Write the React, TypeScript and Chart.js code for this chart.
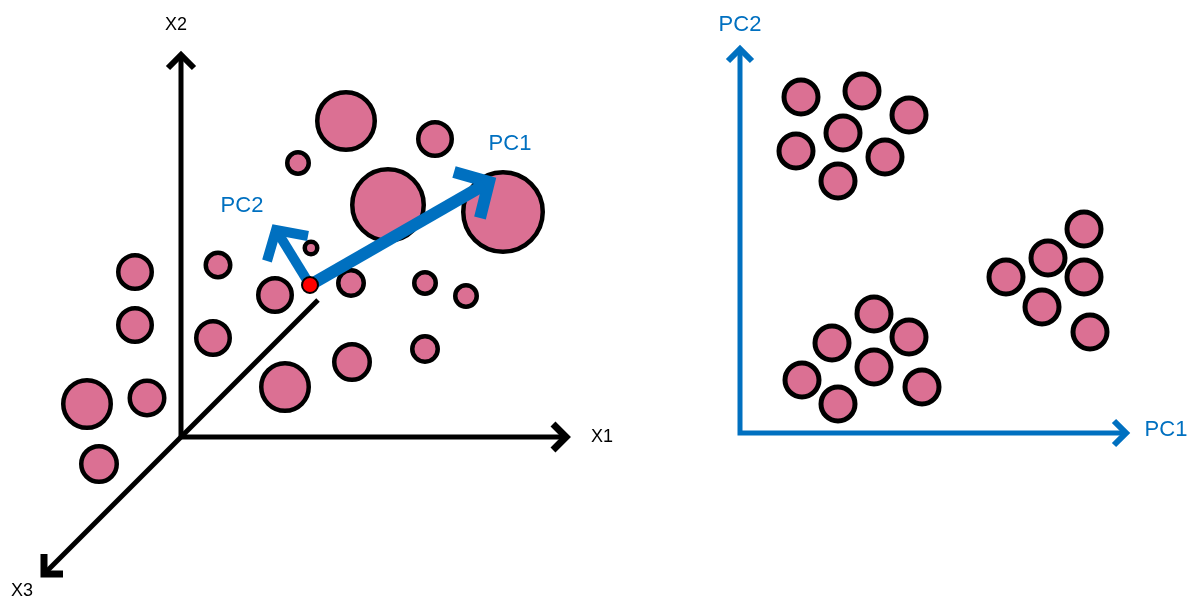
import React, { useEffect, useRef } from "react";
import { Chart, registerables } from "chart.js";

Chart.register(...registerables);

// ---------- data (in picture units: x to the right, y downward) ----------
// left panel: the 3-D cloud of samples
const CLOUD_X = [346, 435, 298, 388, 503, 311, 135, 218, 275, 351, 425, 466, 135, 213, 352, 425, 285, 87, 147, 99];
const CLOUD_Y = [121, 139, 163, 205, 212, 248, 272, 265, 295, 283, 283, 296, 325, 338, 362, 349, 387, 404, 398, 464];
const CLOUD_SIZE = [31, 19, 13, 38, 42, 8.5, 19, 14.5, 19, 15, 13, 13, 19, 19, 20, 15, 26, 26, 19.5, 20];

// the mean of the cloud
const MEAN_X = [310];
const MEAN_Y = [285];

// right panel: three clusters after projection
const PROJ_X = [801, 862, 909, 843, 796, 885, 838, 1084, 1048, 1006, 1084, 1042, 1090, 874, 832, 909, 874, 802, 922, 838];
const PROJ_Y = [97, 91, 115, 133, 151, 157, 181, 229, 258, 277, 277, 307, 332, 314, 343, 337, 367, 380, 387, 404];
const PROJ_SIZE = 19.5;

// axis and arrow paths
const X_AXES_X = [181, 181, 564];
const X_AXES_Y = [56, 437, 437];
const X2_HEAD_X = [168, 181, 194];
const X2_HEAD_Y = [68, 55, 68];
const X1_HEAD_X = [553, 566, 553];
const X1_HEAD_Y = [424, 437, 450];
const X3_AXIS_X = [318, 46];
const X3_AXIS_Y = [300, 572];
const X3_HEAD_X = [44, 44, 63];
const X3_HEAD_Y = [554, 574, 574];

const PC1_SHAFT_X = [310, 484];
const PC1_SHAFT_Y = [285, 185];
const PC1_HEAD_X = [454, 489, 480];
const PC1_HEAD_Y = [172, 182, 218];
const PC2_SHAFT_X = [310, 278];
const PC2_SHAFT_Y = [285, 233];
const PC2_HEAD_X = [267, 276, 308];
const PC2_HEAD_Y = [261, 230, 236];

const PC_AXES_X = [740, 740, 1126];
const PC_AXES_Y = [50, 433, 433];
const PCV_HEAD_X = [728, 740, 752];
const PCV_HEAD_Y = [61, 49, 61];
const PCH_HEAD_X = [1114, 1126, 1114];
const PCH_HEAD_Y = [421, 433, 445];

// labels
const LABEL_TEXT = ["X2", "X1", "X3", "PC1", "PC2", "PC2", "PC1"];
const LABEL_X = [176, 602, 22, 510, 242, 740, 1166];
const LABEL_Y = [25, 437, 591, 144, 206, 25, 430];
const LABEL_KIND = ["axis", "axis", "axis", "pc", "pc", "pc", "pc"];

// ---------- styles ----------
const PINK = "#DB7093";
const BLUE = "#0070C0";
const BLACK = "#000000";
const LABEL_STYLE: Record<string, { size: number; color: string }> = {
  axis: { size: 18, color: BLACK },
  pc: { size: 22, color: BLUE },
};

const W = 1197;
const H = 598;

const path = (xs: number[], ys: number[]) => xs.map((x, i) => ({ x, y: ys[i] }));

const lineSet = (xs: number[], ys: number[], color: string, width: number) => ({
  type: "line" as const,
  data: path(xs, ys),
  borderColor: color,
  borderWidth: width,
  borderJoinStyle: "miter" as const,
  borderCapStyle: "butt" as const,
  pointRadius: 0,
  fill: false,
  tension: 0,
  clip: false as any,
});

const labelPlugin = {
  id: "pcaLabels",
  afterDatasetsDraw(chart: any) {
    const { ctx, scales } = chart;
    ctx.save();
    ctx.textAlign = "center";
    ctx.textBaseline = "middle";
    LABEL_TEXT.forEach((t, i) => {
      const st = LABEL_STYLE[LABEL_KIND[i]];
      ctx.font = `${st.size}px "Liberation Sans", Arial, sans-serif`;
      ctx.fillStyle = st.color;
      ctx.fillText(t, scales.x.getPixelForValue(LABEL_X[i]), scales.y.getPixelForValue(LABEL_Y[i]));
    });
    ctx.restore();
  },
};

export default function App() {
  const ref = useRef<HTMLCanvasElement | null>(null);

  useEffect(() => {
    document.body.style.margin = "0";
    const canvas = ref.current;
    if (!canvas) return;
    const circleBorder = 4.5;
    const projBorder = 5;

    const chart = new Chart(canvas, {
      type: "bubble",
      data: {
        datasets: [
          {
            type: "bubble",
            data: MEAN_X.map((x, i) => ({ x, y: MEAN_Y[i], r: 8 })),
            backgroundColor: "#FF0000",
            borderColor: BLACK,
            borderWidth: 2,
            clip: false as any,
          },
          lineSet(PC1_SHAFT_X, PC1_SHAFT_Y, BLUE, 12),
          lineSet(PC1_HEAD_X, PC1_HEAD_Y, BLUE, 12),
          lineSet(PC2_SHAFT_X, PC2_SHAFT_Y, BLUE, 10),
          lineSet(PC2_HEAD_X, PC2_HEAD_Y, BLUE, 10),
          lineSet(X_AXES_X, X_AXES_Y, BLACK, 5),
          lineSet(X2_HEAD_X, X2_HEAD_Y, BLACK, 6),
          lineSet(X1_HEAD_X, X1_HEAD_Y, BLACK, 7),
          lineSet(X3_AXIS_X, X3_AXIS_Y, BLACK, 5),
          lineSet(X3_HEAD_X, X3_HEAD_Y, BLACK, 7),
          lineSet(PC_AXES_X, PC_AXES_Y, BLUE, 5),
          lineSet(PCV_HEAD_X, PCV_HEAD_Y, BLUE, 6),
          lineSet(PCH_HEAD_X, PCH_HEAD_Y, BLUE, 6),
          {
            type: "bubble",
            data: CLOUD_X.map((x, i) => ({ x, y: CLOUD_Y[i], r: CLOUD_SIZE[i] - circleBorder / 2 })),
            backgroundColor: PINK,
            borderColor: BLACK,
            borderWidth: circleBorder,
            clip: false as any,
          },
          {
            type: "bubble",
            data: PROJ_X.map((x, i) => ({ x, y: PROJ_Y[i], r: PROJ_SIZE - projBorder / 2 })),
            backgroundColor: PINK,
            borderColor: BLACK,
            borderWidth: projBorder,
            clip: false as any,
          },
        ] as any,
      },
      options: {
        responsive: false,
        animation: false,
        events: [],
        layout: { padding: 0, autoPadding: false },
        scales: {
          x: { type: "linear", min: 0, max: W, display: false },
          y: { type: "linear", min: 0, max: H, reverse: true, display: false },
        },
        plugins: {
          legend: { display: false },
          tooltip: { enabled: false },
        },
      },
      plugins: [labelPlugin],
    });
    return () => chart.destroy();
  }, []);

  return (
    <div style={{ width: W, height: H, background: "#ffffff" }}>
      <canvas ref={ref} width={W} height={H} style={{ display: "block", width: W, height: H }} />
    </div>
  );
}
